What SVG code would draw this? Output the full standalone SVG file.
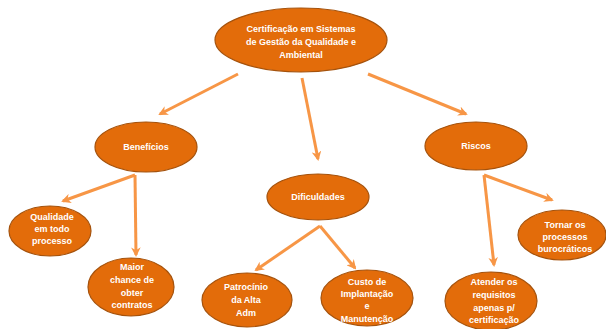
<svg xmlns="http://www.w3.org/2000/svg" width="606" height="329" viewBox="0 0 606 329">
<defs>
<style>
.n{fill:#E36C0A;stroke:#A5520C;stroke-width:1.2}
.t{fill:#fff;font-family:"Liberation Sans",Arial,sans-serif;font-weight:bold;font-size:9px;text-anchor:middle}
.c{stroke:#F79646;stroke-width:3;fill:none;marker-end:url(#ah)}
</style>
<marker id="ah" viewBox="0 0 10 10" refX="8" refY="5" markerWidth="3.2" markerHeight="3.2" orient="auto" markerUnits="strokeWidth">
<path d="M0,0 L10,5 L0,10 L3,5 z" fill="#F79646"/>
</marker>
</defs>
<rect width="606" height="329" fill="#fff"/>
<g id="connectors">
<line class="c" x1="238" y1="74" x2="160" y2="114"/>
<line class="c" x1="302" y1="78" x2="318" y2="159"/>
<line class="c" x1="368" y1="74" x2="466" y2="114"/>
<line class="c" x1="135" y1="175" x2="63" y2="201"/>
<line class="c" x1="135" y1="175" x2="136" y2="255"/>
<line class="c" x1="320" y1="226" x2="256" y2="270"/>
<line class="c" x1="320" y1="226" x2="355" y2="268"/>
<line class="c" x1="484" y1="175" x2="494" y2="265"/>
<line class="c" x1="484" y1="175" x2="552" y2="200"/>
</g>
<g id="root">
<ellipse class="n" cx="301" cy="40" rx="86" ry="32"/>
<text class="t" x="301" y="32">Certificação em Sistemas</text>
<text class="t" x="301" y="45">de Gestão da Qualidade e</text>
<text class="t" x="301" y="58">Ambiental</text>
</g>
<g id="beneficios">
<ellipse class="n" cx="146" cy="147" rx="51" ry="25"/>
<text class="t" x="146" y="150">Benefícios</text>
</g>
<g id="dificuldades">
<ellipse class="n" cx="318" cy="197" rx="51" ry="23"/>
<text class="t" x="318" y="200">Dificuldades</text>
</g>
<g id="riscos">
<ellipse class="n" cx="476" cy="146" rx="51" ry="24"/>
<text class="t" x="476" y="149">Riscos</text>
</g>
<g id="qualidade">
<ellipse class="n" cx="50" cy="231" rx="41" ry="25"/>
<text class="t" x="52" y="220">Qualidade</text>
<text class="t" x="52" y="232">em todo</text>
<text class="t" x="52" y="244">processo</text>
</g>
<g id="maior">
<ellipse class="n" cx="131" cy="287" rx="43" ry="29"/>
<text class="t" x="132" y="270">Maior</text>
<text class="t" x="132" y="283">chance de</text>
<text class="t" x="132" y="296">obter</text>
<text class="t" x="132" y="308">contratos</text>
</g>
<g id="patrocinio">
<ellipse class="n" cx="247" cy="300" rx="45" ry="27"/>
<text class="t" x="246" y="290">Patrocínio</text>
<text class="t" x="246" y="303">da Alta</text>
<text class="t" x="246" y="316">Adm</text>
</g>
<g id="custo">
<ellipse class="n" cx="367" cy="298" rx="46" ry="28"/>
<text class="t" x="367" y="285">Custo de</text>
<text class="t" x="367" y="297">Implantação</text>
<text class="t" x="367" y="309">e</text>
<text class="t" x="367" y="322">Manutenção</text>
</g>
<g id="atender">
<ellipse class="n" cx="491" cy="301" rx="46" ry="29"/>
<text class="t" x="494" y="285">Atender os</text>
<text class="t" x="494" y="298">requisitos</text>
<text class="t" x="494" y="311">apenas p/</text>
<text class="t" x="494" y="323">certificação</text>
</g>
<g id="tornar">
<ellipse class="n" cx="562" cy="235" rx="44" ry="25"/>
<text class="t" x="565" y="228">Tornar os</text>
<text class="t" x="565" y="240">processos</text>
<text class="t" x="565" y="252">burocráticos</text>
</g>
</svg>
